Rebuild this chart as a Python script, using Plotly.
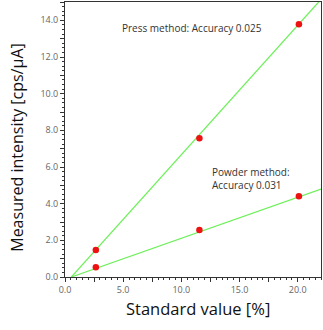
import plotly.graph_objects as go

standard = [2.65, 11.55, 20.1]
press = [1.47, 7.57, 13.78]
powder = [0.53, 2.56, 4.41]
press_fit_x = [0.55, 21.8]
press_fit_y = [0.0, 15.0]
powder_fit_x = [0.55, 22.0]
powder_fit_y = [0.0, 4.79]

x_tickvals = [0, 2.5, 5, 7.5, 10, 12.5, 15, 17.5, 20]
x_ticktext = ["0.0", "", "5.0", "", "10.0", "", "15.0", "", "20.0"]
y_tickvals = list(range(0, 16))
y_ticktext = ["0.0", "", "2.0", "", "4.0", "", "6.0", "", "8.0", "",
              "10.0", "", "12.0", "", "14.0", ""]

line_col = "#6ef05a"
dot_col = "#ee1111"
font = "Open Sans"

fig = go.Figure()
fig.add_trace(go.Scatter(x=press_fit_x, y=press_fit_y, mode="lines",
                         line=dict(color=line_col, width=1.2), cliponaxis=True))
fig.add_trace(go.Scatter(x=powder_fit_x, y=powder_fit_y, mode="lines",
                         line=dict(color=line_col, width=1.2), cliponaxis=True))
fig.add_trace(go.Scatter(x=standard, y=press, mode="markers",
                         marker=dict(color=dot_col, size=6.5)))
fig.add_trace(go.Scatter(x=standard, y=powder, mode="markers",
                         marker=dict(color=dot_col, size=6.5)))

axis_common = dict(showline=True, linecolor="#333", linewidth=1, mirror=True,
                   showgrid=False, zeroline=False, ticks="outside", automargin=False,
                   tickcolor="#333", tickfont=dict(family=font, size=9, color="#666"))

fig.update_layout(
    width=323, height=330,
    margin=dict(l=65, r=2, t=2, b=53, autoexpand=False),
    paper_bgcolor="white", plot_bgcolor="white",
    showlegend=False,
    xaxis=dict(range=[0, 22], tickmode="array", tickvals=x_tickvals, ticktext=x_ticktext,
               ticklen=4,
               minor=dict(dtick=0.5, tick0=0, ticklen=2, ticks="outside", tickcolor="#333"),
               **axis_common),
    yaxis=dict(range=[0, 15], tickmode="array", tickvals=y_tickvals, ticktext=y_ticktext,
               ticklen=4,
               minor=dict(dtick=0.25, tick0=0, ticklen=2, ticks="outside", tickcolor="#333"),
               **axis_common),
    annotations=[
        dict(x=10.9, y=13.6, xref="x", yref="y", text="Press method: Accuracy 0.025",
             showarrow=False, font=dict(family=font, size=10, color="#333"),
             xanchor="center", yanchor="middle"),
        dict(x=12.5, y=5.35, xref="x", yref="y",
             text="Powder method:<br>Accuracy 0.031", align="left",
             showarrow=False, font=dict(family=font, size=10, color="#333"),
             xanchor="left", yanchor="middle"),
        dict(x=0.52, y=0, xref="paper", yref="paper", yshift=-31,
             text="Standard value [%]", showarrow=False,
             font=dict(family=font, size=16.5, color="#111"),
             xanchor="center", yanchor="middle"),
        dict(x=0, y=0.47, xref="paper", yref="paper", xshift=-48,
             text="Measured intensity [cps/μA]", showarrow=False, textangle=-90,
             font=dict(family=font, size=16, color="#111"),
             xanchor="center", yanchor="middle"),
    ],
)

fig.write_html("out.html")
